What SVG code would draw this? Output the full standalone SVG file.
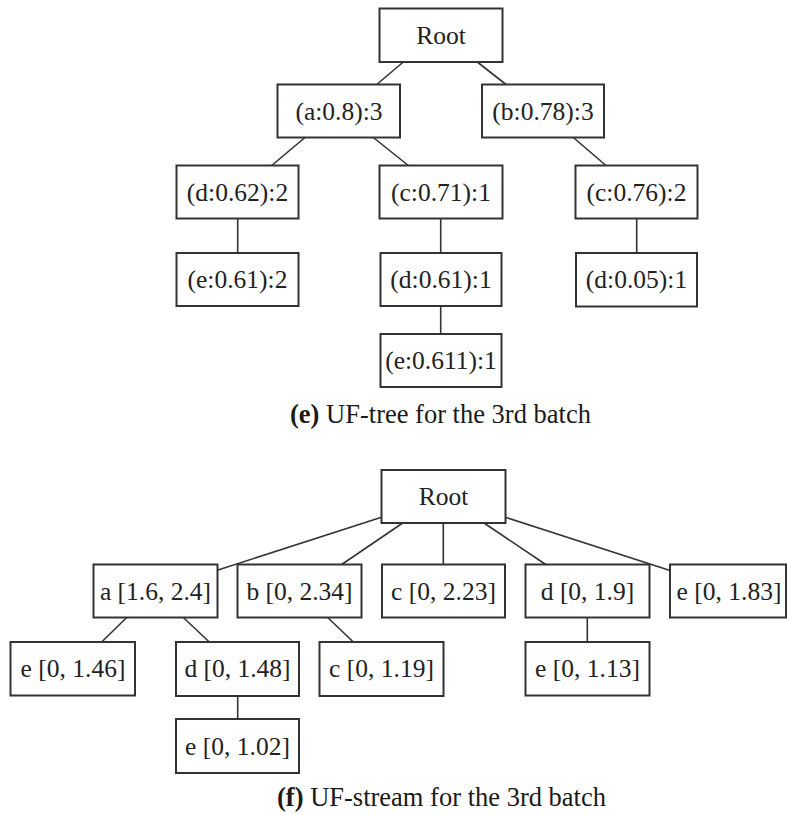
<svg xmlns="http://www.w3.org/2000/svg" width="787" height="815" viewBox="0 0 787 815">
  <style>
    .box { fill: #ffffff; stroke: #333333; stroke-width: 2; }
    .edge { stroke: #333333; stroke-width: 1.6; fill: none; }
    .lbl { font-family: "Liberation Serif", "Times New Roman", serif; font-size: 25.5px; fill: #222222; text-anchor: middle; }
    .cap { font-family: "Liberation Serif", "Times New Roman", serif; font-size: 26.5px; fill: #1a1a1a; text-anchor: middle; }
    .capb { font-weight: bold; }
  </style>
  <rect width="787" height="815" fill="#ffffff"/>

  <!-- connectors: UF-tree (top) and UF-stream (bottom) -->
  <g id="connectors">
    <line class="edge" x1="403.3" y1="62" x2="376.7" y2="84.5"/>
    <line class="edge" x1="477.3" y1="62" x2="506" y2="84.5"/>
    <line class="edge" x1="305" y1="137.5" x2="271.7" y2="165.5"/>
    <line class="edge" x1="373.3" y1="137.5" x2="408.3" y2="165.5"/>
    <line class="edge" x1="573.3" y1="137.5" x2="606" y2="165.5"/>
    <line class="edge" x1="237.7" y1="218.5" x2="237.7" y2="253"/>
    <line class="edge" x1="440.7" y1="218.5" x2="440.7" y2="253"/>
    <line class="edge" x1="440.7" y1="306" x2="440.7" y2="334"/>
    <line class="edge" x1="636.7" y1="218.5" x2="636.7" y2="253"/>

    <line class="edge" x1="381.5" y1="517.3" x2="218" y2="570"/>
    <line class="edge" x1="402.7" y1="523" x2="341.7" y2="564.5"/>
    <line class="edge" x1="443.3" y1="523" x2="443.3" y2="564.5"/>
    <line class="edge" x1="484" y1="523" x2="545.7" y2="564.5"/>
    <line class="edge" x1="505.5" y1="517.3" x2="670" y2="570.5"/>
    <line class="edge" x1="126.7" y1="617.5" x2="101.7" y2="642"/>
    <line class="edge" x1="183.3" y1="617.5" x2="209.3" y2="642"/>
    <line class="edge" x1="327.7" y1="617.5" x2="353.3" y2="642"/>
    <line class="edge" x1="237.7" y1="696" x2="237.7" y2="719"/>
    <line class="edge" x1="587.3" y1="617.5" x2="587.3" y2="642"/>
  </g>

  <!-- UF-tree nodes -->
  <g id="t-root"><rect class="box" x="379.5" y="8.5" width="123" height="53.5"/><text class="lbl" x="441" y="43.5">Root</text></g>
  <g id="t-a"><rect class="box" x="277.5" y="84.5" width="122.5" height="53"/><text class="lbl" x="339" y="119.5">(a:0.8):3</text></g>
  <g id="t-b"><rect class="box" x="482" y="84.5" width="122" height="53"/><text class="lbl" x="543" y="119.5">(b:0.78):3</text></g>
  <g id="t-ad"><rect class="box" x="176.5" y="165.5" width="122" height="53"/><text class="lbl" x="237.5" y="200.5">(d:0.62):2</text></g>
  <g id="t-ac"><rect class="box" x="379.5" y="165.5" width="123" height="53"/><text class="lbl" x="441" y="200.5">(c:0.71):1</text></g>
  <g id="t-bc"><rect class="box" x="575.5" y="165.5" width="122" height="53"/><text class="lbl" x="636.5" y="200.5">(c:0.76):2</text></g>
  <g id="t-ade"><rect class="box" x="176.5" y="253" width="122" height="53"/><text class="lbl" x="237.5" y="288">(e:0.61):2</text></g>
  <g id="t-acd"><rect class="box" x="380.5" y="253" width="121" height="53"/><text class="lbl" x="441" y="288">(d:0.61):1</text></g>
  <g id="t-bcd"><rect class="box" x="576" y="253" width="121" height="53.5"/><text class="lbl" x="636.5" y="288">(d:0.05):1</text></g>
  <g id="t-acde"><rect class="box" x="380.5" y="334" width="121" height="53"/><text class="lbl" x="441" y="369">(e:0.611):1</text></g>

  <text class="cap" x="440.5" y="423"><tspan class="capb">(e)</tspan> UF-tree for the 3rd batch</text>

  <!-- UF-stream nodes -->
  <g id="s-root"><rect class="box" x="381.5" y="470" width="124" height="53"/><text class="lbl" x="443.5" y="505">Root</text></g>
  <g id="s-a"><rect class="box" x="93.5" y="564.5" width="124" height="53"/><text class="lbl" x="155.5" y="599.5">a [1.6, 2.4]</text></g>
  <g id="s-b"><rect class="box" x="237.5" y="564.5" width="124" height="53"/><text class="lbl" x="299.5" y="599.5">b [0, 2.34]</text></g>
  <g id="s-c"><rect class="box" x="382" y="564.5" width="123" height="53"/><text class="lbl" x="443.5" y="599.5">c [0, 2.23]</text></g>
  <g id="s-d"><rect class="box" x="525.5" y="564.5" width="124" height="53"/><text class="lbl" x="587.5" y="599.5">d [0, 1.9]</text></g>
  <g id="s-e"><rect class="box" x="670" y="564.5" width="116" height="53"/><text class="lbl" x="729" y="599.5">e [0, 1.83]</text></g>
  <g id="s-ae"><rect class="box" x="10.5" y="642" width="124.5" height="53.5"/><text class="lbl" x="73" y="677">e [0, 1.46]</text></g>
  <g id="s-ad"><rect class="box" x="176" y="642" width="123" height="54"/><text class="lbl" x="237.5" y="677">d [0, 1.48]</text></g>
  <g id="s-bc"><rect class="box" x="319.5" y="642" width="124" height="54"/><text class="lbl" x="381.5" y="677">c [0, 1.19]</text></g>
  <g id="s-de"><rect class="box" x="525.5" y="642" width="124" height="53.5"/><text class="lbl" x="587.5" y="677">e [0, 1.13]</text></g>
  <g id="s-ade"><rect class="box" x="176" y="719" width="123" height="54"/><text class="lbl" x="237.5" y="754.5">e [0, 1.02]</text></g>

  <text class="cap" x="441.5" y="806"><tspan class="capb">(f)</tspan> UF-stream for the 3rd batch</text>
</svg>
